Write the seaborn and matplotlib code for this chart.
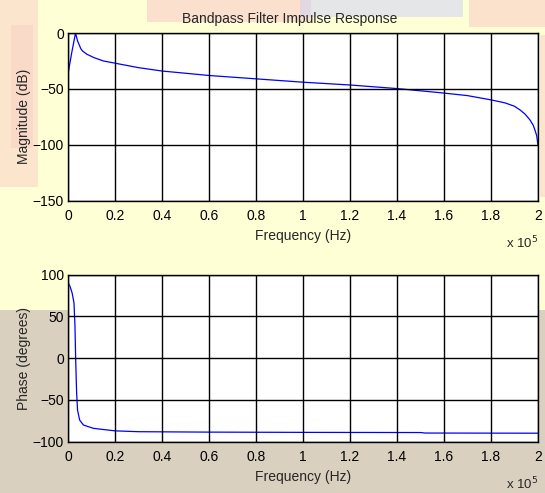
import numpy as np
import pandas as pd
import matplotlib
matplotlib.use("Agg")
import matplotlib.pyplot as plt
from matplotlib.patches import Rectangle
import seaborn as sns

# ---- data ----
mag_freq = [0, 1500, 3150, 4000, 5400, 6100, 8000, 11000, 15000, 20000, 30000, 40000,
            60000, 80000, 100000, 120000, 140000, 158000, 170000, 180000, 186000,
            190000, 192300, 194500, 196600, 198000, 198700, 199500, 200000]
mag_db = [-36, -18, 0, -7, -14, -16, -19, -22, -25, -27, -31, -34,
          -38, -41, -44, -46.5, -49.7, -53.3, -56, -59.8, -62.5,
          -65.5, -68.7, -72.5, -77.7, -82.5, -86.6, -92, -100]

ph_freq = [0, 800, 1700, 2500, 2900, 3200, 3600, 4000, 4900, 6500, 10800, 20000,
           30000, 60000, 100000, 150000, 152000, 200000]
ph_deg = [90, 86, 78, 66, 40, 0, -40, -62, -74, -80, -84, -87,
          -88, -88.5, -88.8, -89, -89.6, -89.8]

x_ticks = [0, 20000, 40000, 60000, 80000, 100000, 120000, 140000, 160000, 180000, 200000]
x_tick_labels = ["0", "0.2", "0.4", "0.6", "0.8", "1", "1.2", "1.4", "1.6", "1.8", "2"]
mag_ticks = [0, -50, -100, -150]
ph_ticks = [100, 50, 0, -50, -100]

title = "Bandpass Filter Impulse Response"

sns.set_style("white")
plt.rcParams["font.family"] = ["Liberation Sans", "DejaVu Sans"]
plt.rcParams["font.size"] = 10

fig = plt.figure(figsize=(5.45, 4.93), dpi=100)
fig.patch.set_facecolor("#FFFFD6")

# background decoration (approximation of the slide texture)
bg = [
    ((0, 0), 1, 0.372, "#D9D0BF", 1.0),            # bottom beige texture
    ((0, 0.62), 0.07, 0.38, "#F7C6C4", 0.45),      # left pink band
    ((0.02, 0.70), 0.04, 0.25, "#F4B8B8", 0.25),   # left darker patch
    ((0.27, 0.955), 0.30, 0.045, "#F6C2C6", 0.5),  # top pink
    ((0.55, 0.965), 0.30, 0.035, "#CFD2F6", 0.55), # top blue
    ((0.86, 0.945), 0.14, 0.055, "#F7C6C4", 0.5),  # top right pink
    ((0.99, 0.60), 0.01, 0.33, "#F7C6C4", 0.45),   # right edge pink
]
for (xy, w, h, c, a) in bg:
    fig.add_artist(Rectangle(xy, w, h, transform=fig.transFigure,
                             facecolor=c, edgecolor="none", alpha=a, zorder=-10))

ax1 = fig.add_axes([0.125, 0.593, 0.862, 0.34])
ax2 = fig.add_axes([0.125, 0.104, 0.862, 0.339])

df_mag = pd.DataFrame({"f": mag_freq, "v": mag_db})
df_ph = pd.DataFrame({"f": ph_freq, "v": ph_deg})

sns.lineplot(data=df_mag, x="f", y="v", ax=ax1, color="#0000FF", linewidth=0.9,
             estimator=None, sort=False)
sns.lineplot(data=df_ph, x="f", y="v", ax=ax2, color="#0000FF", linewidth=0.9,
             estimator=None, sort=False)

for ax, yt, ylim, ylab in [(ax1, mag_ticks, (-150, 0), "Magnitude (dB)"),
                           (ax2, ph_ticks, (-100, 100), "Phase (degrees)")]:
    ax.set_facecolor("white")
    ax.set_xlim(0, 200000)
    ax.set_ylim(*ylim)
    ax.set_xticks(x_ticks)
    ax.set_xticklabels(x_tick_labels)
    ax.set_yticks(yt)
    ax.grid(True, color="black", linewidth=1.0, linestyle="-")
    ax.set_axisbelow(False)
    for s in ax.spines.values():
        s.set_color("black")
        s.set_linewidth(1.0)
    ax.tick_params(axis="y", length=0, pad=3, labelsize=10, colors="black")
    ax.tick_params(axis="x", length=0, pad=6, labelsize=10, colors="black")
    ax.set_xlabel("Frequency (Hz)", fontsize=10, labelpad=4.5)
    ax.set_ylabel(ylab, fontsize=10, labelpad=1)

fig.text(0.532, 0.962, title, fontsize=10, ha="center", va="center")

fig.text(0.958, 0.507, r"x 10$^{5}$", fontsize=9.5, ha="center", va="center")
fig.text(0.958, 0.018, r"x 10$^{5}$", fontsize=9.5, ha="center", va="center")

fig.savefig("out.png", dpi=100, facecolor=fig.get_facecolor())
